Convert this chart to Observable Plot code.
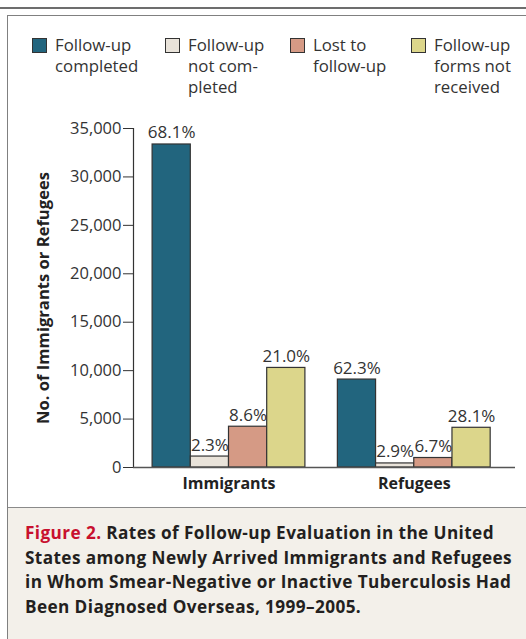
<!DOCTYPE html>
<html><head><meta charset="utf-8">
<script src="https://cdn.jsdelivr.net/npm/d3@7"></script>
<script src="https://cdn.jsdelivr.net/npm/@observablehq/plot@0.6"></script>
<style>
body{margin:0;width:526px;height:639px;overflow:hidden;background:#fff;font-family:"Open Sans",sans-serif;}
#wrap{position:relative;width:526px;height:639px;overflow:hidden;}
#topline{position:absolute;left:0;top:7px;width:526px;height:2px;background:#6d6d6d;}
#frame{position:absolute;left:7px;top:15px;width:600px;height:700px;border-left:1.5px solid #808080;border-top:1.5px solid #808080;}
.item{position:absolute;top:34px;}
.sw{position:absolute;left:0;top:4px;width:13px;height:13px;border:1px solid #333;}
.lab{position:absolute;left:23px;top:0;font-size:16.8px;line-height:21px;color:#333;white-space:nowrap;}
#chart{position:absolute;left:0;top:100px;}
#caption{position:absolute;left:8px;top:507px;width:600px;height:140px;background:#f3f0ea;border-top:1.5px solid #8a8a8a;}
#captext{position:absolute;left:17px;top:13px;font-weight:bold;font-size:17.2px;letter-spacing:0.4px;line-height:24.7px;color:#231f20;white-space:nowrap;}
</style></head>
<body>
<div id="wrap">
  <div id="topline"></div>
  <div id="frame"></div>
  <div id="legend"></div>
  <div id="chart"></div>
  <div id="caption"><div id="captext"><span style="color:#c8102e">Figure 2.</span> Rates of Follow-up Evaluation in the United<br>States among Newly Arrived Immigrants and Refugees<br>in Whom Smear-Negative or Inactive Tuberculosis Had<br>Been Diagnosed Overseas, 1999–2005.</div></div>
</div>
<script>
const groups = ["Immigrants", "Refugees"];
const categories = ["Follow-up completed", "Follow-up not completed", "Lost to follow-up", "Follow-up forms not received"];
const legendLines = [["Follow-up", "completed"], ["Follow-up", "not com-", "pleted"], ["Lost to", "follow-up"], ["Follow-up", "forms not", "received"]];
const colors = ["#22657e", "#e9e3da", "#d59a85", "#dcd68b"];
const immigrantsValues = [33350, 1130, 4210, 10280];
const refugeesValues = [9080, 420, 980, 4100];
const immigrantsPct = ["68.1%", "2.3%", "8.6%", "21.0%"];
const refugeesPct = ["62.3%", "2.9%", "6.7%", "28.1%"];
const yTicks = [0, 5000, 10000, 15000, 20000, 25000, 30000, 35000];
const yLabel = "No. of Immigrants or Refugees";

// layout (not data)
const groupStart = [0.5, 5.35];
const legendLeft = [32, 165, 290, 411];

const values = [immigrantsValues, refugeesValues];
const pcts = [immigrantsPct, refugeesPct];
const data = groups.flatMap((g, gi) => categories.map((c, ci) => ({
  group: g, category: c, value: values[gi][ci], pct: pcts[gi][ci],
  x1: groupStart[gi] + ci, x2: groupStart[gi] + ci + 1
})));
const groupLabels = groups.map((g, gi) => ({group: g, x: groupStart[gi] + categories.length / 2, y: 0}));

// legend
const legend = document.getElementById("legend");
categories.forEach((c, i) => {
  const it = document.createElement("div");
  it.className = "item";
  it.style.left = legendLeft[i] + "px";
  it.innerHTML = `<div class="sw" style="background:${colors[i]}"></div><div class="lab">${legendLines[i].join("<br>")}</div>`;
  legend.appendChild(it);
});

const chart = Plot.plot({
  width: 526, height: 400,
  marginLeft: 133, marginRight: 11, marginTop: 28, marginBottom: 33,
  x: {domain: [0, 10], axis: null},
  y: {domain: [0, 35000]},
  color: {domain: categories, range: colors},
  style: {fontFamily: "'Open Sans', sans-serif", fontSize: "15px", color: "#333", background: "transparent", overflow: "visible"},
  marks: [
    Plot.axisY({ticks: yTicks, tickFormat: d3.format(","), tickSize: 10, tickPadding: 2, label: null, fontSize: 16.5, stroke: "#333", fill: "#333"}),
    Plot.ruleX([0], {stroke: "#333", strokeWidth: 1.2}),
    Plot.rectY(data, {x1: "x1", x2: "x2", y: "value", fill: "category", stroke: "#333", strokeWidth: 1.2}),
    Plot.ruleY([0], {stroke: "#555", strokeWidth: 1.5}),
    Plot.text(data, {x: d => (d.x1 + d.x2) / 2, y: "value", text: "pct", lineAnchor: "bottom", dy: -6, fontSize: 17, fill: "#333"}),
    Plot.text(groupLabels, {x: "x", y: "y", text: "group", lineAnchor: "top", dy: 10, fontSize: 16, fontWeight: "bold", fill: "#222"}),
    Plot.text([yLabel], {frameAnchor: "left", textAnchor: "middle", dx: -90, rotate: -90, fontSize: 16.6, fontWeight: "bold", fill: "#222"})
  ]
});
document.getElementById("chart").appendChild(chart);
</script>
</body></html>
